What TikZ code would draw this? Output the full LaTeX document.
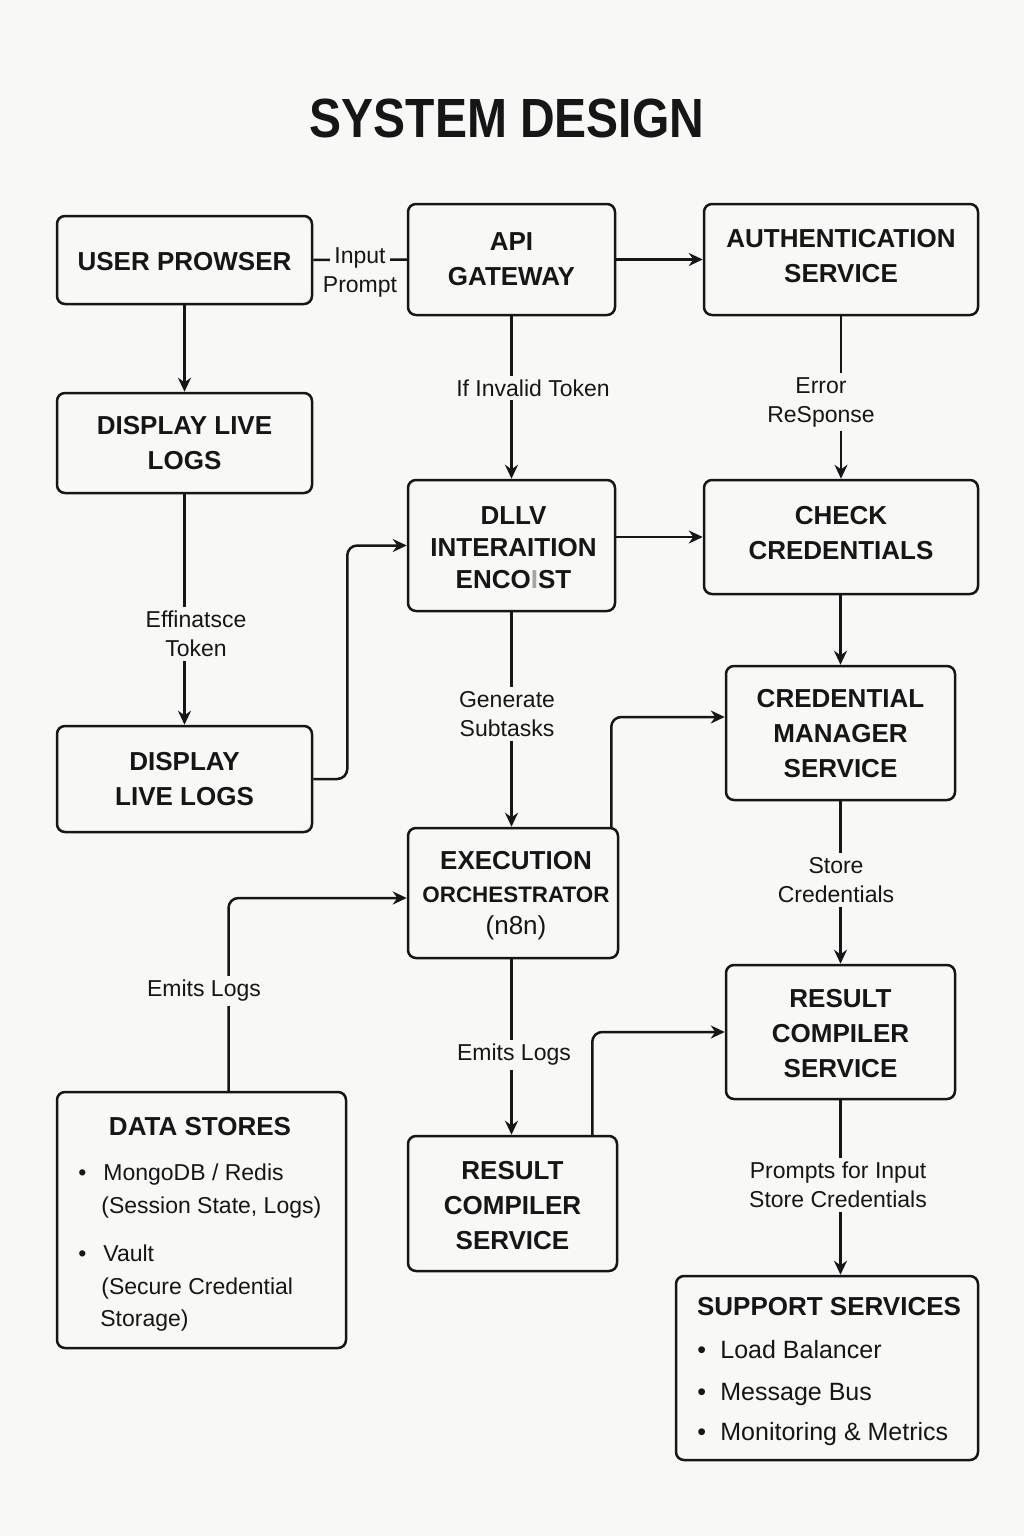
\documentclass[tikz,border=0pt]{standalone}
\usepackage{fontspec}
\setmainfont{Liberation Sans}
\usetikzlibrary{arrows.meta,calc,fit}
\definecolor{bg}{RGB}{248,248,246}
\definecolor{ink}{RGB}{22,22,22}
\begin{document}
\begin{tikzpicture}[x=0.5pt,y=-0.5pt,
  box/.style={draw=ink, line width=1.25pt, rounded corners=4pt, inner sep=0pt, fill=bg},
  btxt/.style={font=\fontsize{13}{17.5}\selectfont\bfseries, align=center, text=ink, inner sep=0pt},
  lbl/.style={font=\fontsize{11.5}{14.5}\selectfont, align=center, fill=bg, text=ink, inner sep=2pt},
  itm/.style={font=\fontsize{11.5}{15}\selectfont, anchor=base west, text=ink, inner sep=0pt},
  sitm/.style={font=\fontsize{12.5}{15}\selectfont, anchor=base west, text=ink, inner sep=0pt},
  arr/.style={draw=ink, line width=1.25pt, -{Stealth[length=7pt,width=6.5pt]}},
  ln/.style={draw=ink, line width=1.25pt},
  elb/.style={arr, rounded corners=5pt}]
\fill[bg] (0,0) rectangle (1024,1536);
\useasboundingbox (0,0) rectangle (1024,1536);

% title
\node[font=\fontsize{24}{28}\selectfont\bfseries, text=ink] (title) at (507,118) {\scalebox{1}[1.15]{SYSTEM DESIGN}};

% boxes
\node[box, fit={(57,216)(312,304)}] (user) {};
\node[box, fit={(408,204)(615,315)}] (api) {};
\node[box, fit={(704,204)(978,315)}] (auth) {};
\node[box, fit={(57,393)(312,493)}] (disp1) {};
\node[box, fit={(408,480)(615,611)}] (dllv) {};
\node[box, fit={(704,480)(978,594)}] (check) {};
\node[box, fit={(57,726)(312,832)}] (disp2) {};
\node[box, fit={(726,666)(955,800)}] (cred) {};
\node[box, fit={(408,828)(618,958)}] (exec) {};
\node[box, fit={(726,965)(955,1099)}] (resr) {};
\node[box, fit={(57,1092)(346,1348)}] (ds) {};
\node[box, fit={(408,1136)(617,1271)}] (resm) {};
\node[box, fit={(676,1276)(978,1460)}] (sup) {};

% box texts
\node[btxt] (tuser) at ($(user)+(0,2)$) {USER PROWSER};
\node[btxt] (tapi) at (api) {API\\GATEWAY};
\node[btxt] (tauth) at ($(auth)+(0,-3)$) {AUTHENTICATION\\SERVICE};
\node[btxt] (tdisp1) at (disp1) {DISPLAY LIVE\\LOGS};
\node[btxt, font=\fontsize{13}{16}\selectfont\bfseries] (tdllv) at ($(dllv)+(2,2)$) {DLLV\\INTERAITION\\ENCO{\color{gray!70}I}ST};
\node[btxt] (tcheck) at ($(check)+(0,-4)$) {CHECK\\CREDENTIALS};
\node[btxt] (tdisp2) at (disp2) {DISPLAY\\LIVE LOGS};
\node[btxt] (tcred) at ($(cred)+(0,1)$) {CREDENTIAL\\MANAGER\\SERVICE};
\node[btxt, font=\fontsize{13}{16.2}\selectfont\bfseries] (texec) at ($(exec)+(3,3)$) {EXECUTION\\{\fontsize{11.2}{16.2}\selectfont ORCHESTRATOR}\\{\mdseries(n8n)}};
\node[btxt] (tresr) at ($(resr)+(0,2)$) {RESULT\\COMPILER\\SERVICE};
\node[btxt] (tresm) at ($(resm)+(0,2)$) {RESULT\\COMPILER\\SERVICE};

% data stores content
\node[btxt] (dsh) at (200,1127) {DATA STORES};
\node[itm] (dsb1) at (78,1180) {•};
\node[itm] (ds1) at (103,1180) {MongoDB / Redis};
\node[itm] (ds1b) at (101,1213) {(Session State, Logs)};
\node[itm] (dsb2) at (78,1261) {•};
\node[itm] (ds2) at (103,1261) {Vault};
\node[itm] (ds2b) at (101,1294) {(Secure Credential};
\node[itm] (ds2c) at (100,1326) {Storage)};

% support content
\node[btxt] (suph) at (829,1307) {SUPPORT SERVICES};
\node[sitm] (sb1) at (697,1358) {•};
\node[sitm] (s1) at (720,1358) {Load Balancer};
\node[sitm] (sb2) at (697,1400) {•};
\node[sitm] (s2) at (720,1400) {Message Bus};
\node[sitm] (sb3) at (697,1440) {•};
\node[sitm] (s3) at (720,1440) {Monitoring \& Metrics};

% connectors
\draw[ln] (user.east) -- (api.west);
\draw[arr] (api.east) -- (auth.west);
\draw[arr] (user.south) -- (disp1.north);
\draw[arr] (api.south) -- (dllv.north);
\draw[arr] (auth.south) -- (check.north);
\draw[arr] (disp1.south) -- (disp2.north);
\draw[elb] (disp2.east) -- ++(34,0) |- (dllv.west);
\draw[arr] (dllv.east |- check.west) -- (check.west);
\draw[arr] (check.south -| cred.north) -- (cred.north);
\draw[arr] (dllv.south) -- (exec.north -| dllv.south);
\draw[elb] ($(exec.north east)+(-8,0)$) |- ($(cred.west)+(0,-16)$);
\draw[arr] (cred.south) -- (resr.north);
\draw[elb] ($(ds.north)+(27,0)$) |- ($(exec.west)+(0,5)$);
\draw[arr] (exec.south -| dllv.south) -- (resm.north -| dllv.south);
\draw[elb] ($(resm.north east)+(-26,0)$) |- (resr.west);
\draw[arr] (resr.south) -- (resr.south |- sup.north);

% labels
\node[lbl] (l1) at (360,258) {Input};
\node[lbl, fill=none] (l1b) at (360,287) {Prompt};
\node[lbl] (l2) at (533,388) {If Invalid Token};
\node[lbl] (l3) at (821,402) {Error\\ReSponse};
\node[lbl] (l4) at (196,634) {Effinatsce\\Token};
\node[lbl] (l5) at (507,714) {Generate\\Subtasks};
\node[lbl] (l6) at (836,880) {Store\\Credentials};
\node[lbl] (l7) at (204,991) {Emits Logs};
\node[lbl] (l8) at (514,1055) {Emits Logs};
\node[lbl] (l9) at (838,1185) {Prompts for Input\\Store Credentials};
\end{tikzpicture}
\end{document}
